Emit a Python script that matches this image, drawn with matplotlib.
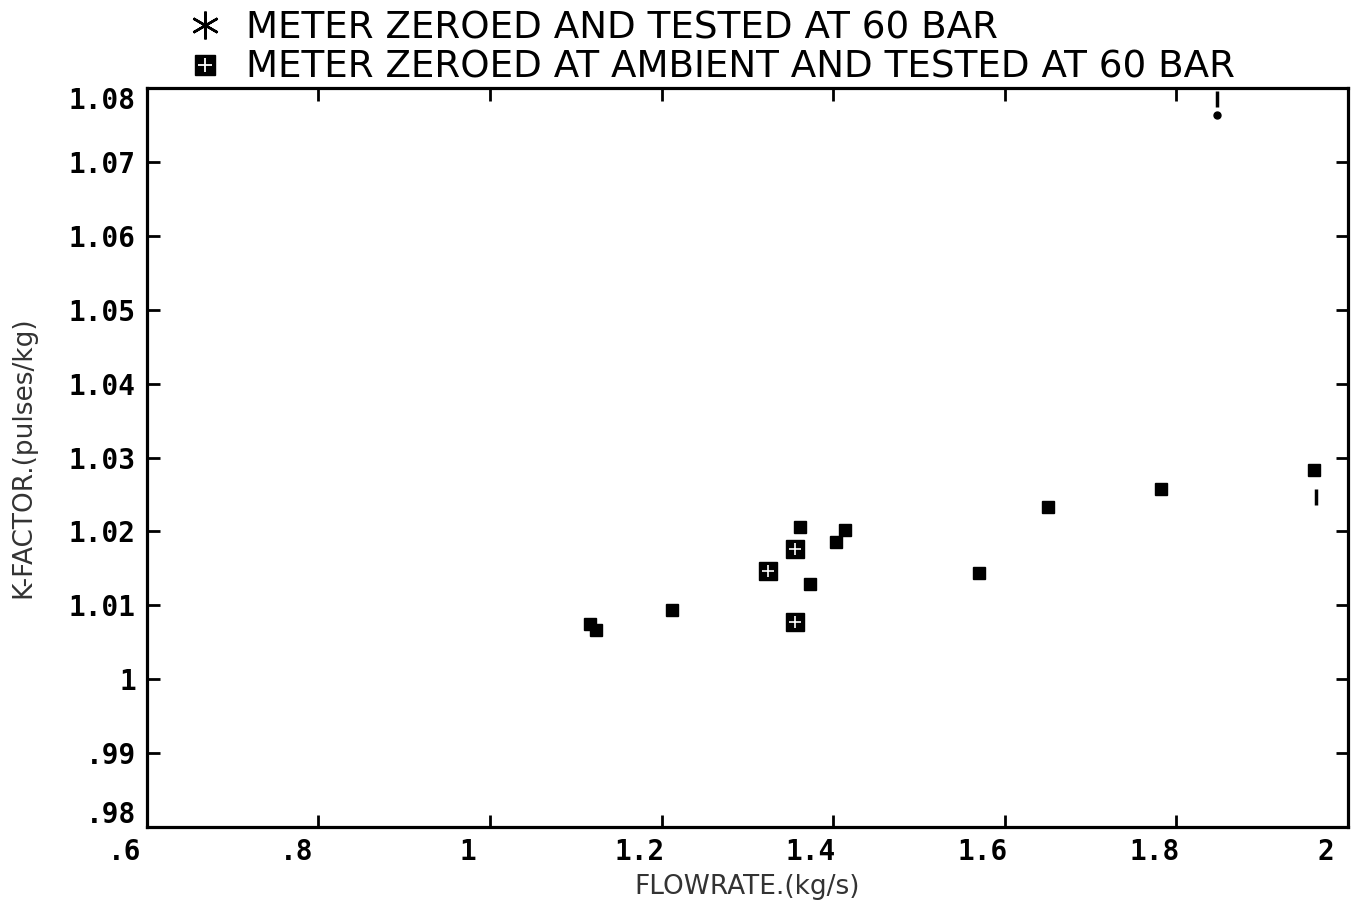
import matplotlib
matplotlib.use("Agg")
from matplotlib import pyplot as plt
from matplotlib.lines import Line2D
from matplotlib.legend_handler import HandlerTuple
import matplotlib.transforms as mtransforms

# meter zeroed and tested at 60 bar
flow_60 = [1.116, 1.123, 1.212, 1.361, 1.373, 1.403, 1.414, 1.570, 1.650, 1.782, 1.961]
kfac_60 = [1.0075, 1.0067, 1.0094, 1.0206, 1.0129, 1.0186, 1.0202, 1.0144, 1.0233, 1.0257, 1.0283]

# meter zeroed at ambient and tested at 60 bar
flow_amb = [1.324, 1.355, 1.355]
kfac_amb = [1.0146, 1.0176, 1.0077]

# stray plotter marks
stray_dot_x = [1.847]
stray_dot_y = [1.0763]
stray_bar_x = [1.847, 1.963]
stray_bar_y = [1.0785, 1.0247]

xticks = [0.6, 0.8, 1.0, 1.2, 1.4, 1.6, 1.8, 2.0]
xticklabels = [".6", ".8", "1", "1.2", "1.4", "1.6", "1.8", "2"]
yticks = [0.98, 0.99, 1.00, 1.01, 1.02, 1.03, 1.04, 1.05, 1.06, 1.07, 1.08]
yticklabels = [".98", ".99", "1", "1.01", "1.02", "1.03", "1.04", "1.05", "1.06", "1.07", "1.08"]

fig = plt.figure(figsize=(13.63, 9.14), dpi=100)
ax = fig.add_axes([0.1078, 0.0952, 0.881, 0.8085])

ax.plot(flow_60, kfac_60, ls="none", marker="s", ms=9, color="black")
ax.plot(flow_amb, kfac_amb, ls="none", marker="s", ms=13, color="black")
ax.plot(flow_amb, kfac_amb, ls="none", marker="+", ms=8, mew=1.2, color="white")
ax.plot(stray_dot_x, stray_dot_y, ls="none", marker="o", ms=5, color="black")
ax.plot(stray_bar_x, stray_bar_y, ls="none", marker="|", ms=11, mew=2.5, color="black")

ax.set_xlim(0.6, 2.0)
ax.set_ylim(0.98, 1.08)
ax.set_xticks(xticks)
ax.set_xticklabels(xticklabels)
ax.set_yticks(yticks)
ax.set_yticklabels(yticklabels)

for s in ax.spines.values():
    s.set_linewidth(2.3)

ax.tick_params(direction="in", length=9, width=2, top=True, right=True,
               labelsize=20)
ax.tick_params(axis="x", pad=8)
ax.tick_params(axis="y", pad=8)
for lab in ax.get_xticklabels() + ax.get_yticklabels():
    lab.set_fontfamily("DejaVu Sans Mono")
    lab.set_fontweight("bold")

shift = mtransforms.ScaledTranslation(-0.22, 0, fig.dpi_scale_trans)
for lab in ax.get_xticklabels():
    lab.set_transform(lab.get_transform() + shift)

# end labels sit inside the frame like on the original plot
ylabs = ax.get_yticklabels()
ylabs[0].set_transform(ylabs[0].get_transform()
                       + mtransforms.ScaledTranslation(0, 0.15, fig.dpi_scale_trans))
ylabs[-1].set_transform(ylabs[-1].get_transform()
                        + mtransforms.ScaledTranslation(0, -0.1, fig.dpi_scale_trans))

ax.set_xlabel("FLOWRATE.(kg/s)", fontsize=19, color="#333333", labelpad=6)
ax.set_ylabel("K-FACTOR.(pulses/kg)", fontsize=19, color="#333333")
ax.yaxis.set_label_coords(-0.092, 0.5)

h_star = Line2D([], [], ls="none", marker=(6, 2, 0), ms=20, mew=1.8, color="black")
h_box = Line2D([], [], ls="none", marker="s", ms=15, color="black")
h_plus = Line2D([], [], ls="none", marker="+", ms=10, mew=1.3, color="white")
fig.legend([h_star, (h_box, h_plus)],
           ["METER ZEROED AND TESTED AT 60 BAR",
            "METER ZEROED AT AMBIENT AND TESTED AT 60 BAR"],
           handler_map={tuple: HandlerTuple(ndivide=1, pad=0)},
           loc="upper left", bbox_to_anchor=(0.123, 1.010), frameon=False,
           fontsize=26.8, handlelength=1.0, handletextpad=0.6, labelspacing=0.06,
           borderpad=0.0)

fig.savefig("out.png", dpi=100)
